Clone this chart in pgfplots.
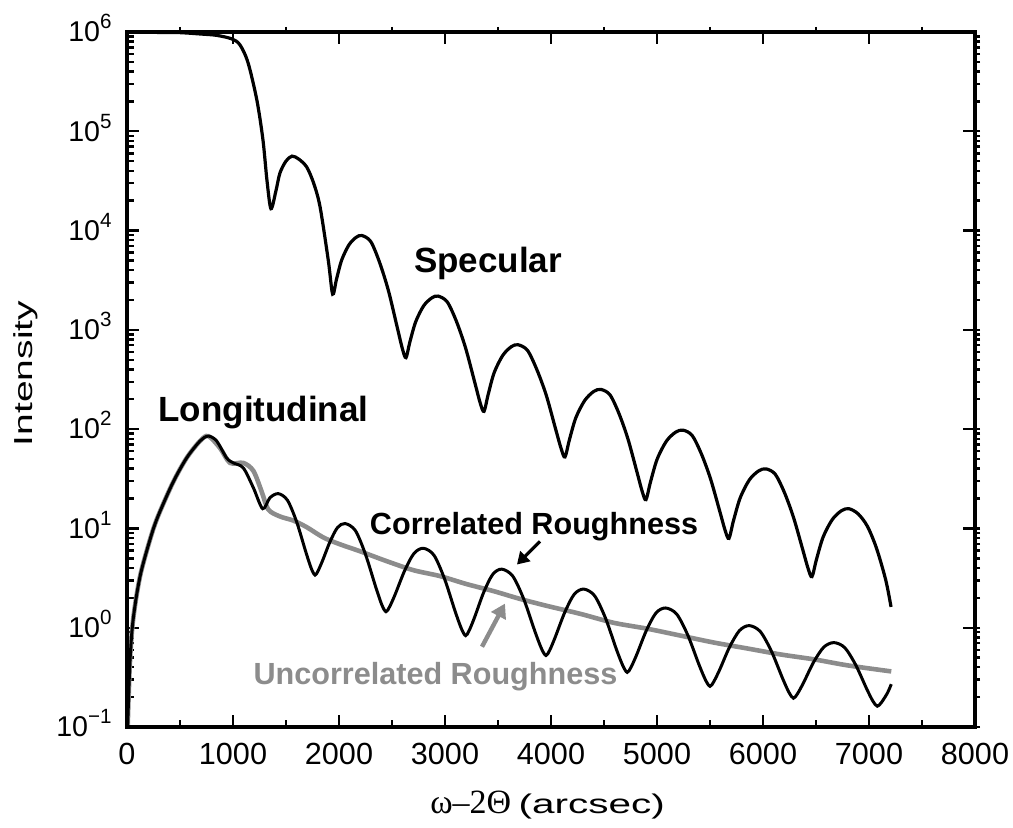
\documentclass[border=0pt]{standalone}
\usepackage{fontspec}
\setmainfont{Liberation Sans}
\newfontfamily\seriffont{Liberation Serif}
\usepackage{pgfplots}
\pgfplotsset{compat=1.18}
\usetikzlibrary{arrows.meta}

\definecolor{roughgray}{gray}{0.55}
\newcommand{\expo}[1]{\smash{\raisebox{6.5pt}{\fontsize{10.3}{11}\selectfont #1}}}

\begin{document}
\begin{tikzpicture}
% main axis: data, labels, ticks on bottom and left
\begin{axis}[
  width=424pt, height=347.5pt, scale only axis,
  xmin=0, xmax=8000, ymin=0.1, ymax=1e6, ymode=log,
  xtick={0,1000,...,8000}, minor x tick num=1,
  ytick={0.1,1,10,100,1000,10000,100000,1000000},
  axis line style={line width=1.6pt},
  every tick/.style={black, line width=1.2pt},
  major tick length=6pt, minor tick length=3.5pt,
  xtick pos=left, ytick pos=left, tick align=inside,
  clip mode=individual,
  scaled x ticks=false,
  /pgf/number format/assume math mode=true,
  /pgf/number format/set thousands separator={},
  xticklabel style={font=\fontsize{15.3}{16}\selectfont, inner sep=0pt, anchor=north, yshift=-8pt},
  yticklabel style={font=\fontsize{14.3}{15}\selectfont, inner sep=0pt, anchor=east, xshift=-7.5pt},
  yticklabels={10\expo{−1},10\expo{0},10\expo{1},10\expo{2},10\expo{3},10\expo{4},10\expo{5},10\expo{6}},
]
% uncorrelated roughness (grey)
\addplot[roughgray, line width=2.3pt, smooth] coordinates {
(6,0.1) (20,0.282) (30,0.501) (44,0.851) (60,1.26) (91,2.14) (130,3.55) (185,5.89)
(250,10.0) (311,14.8) (437,29.5) (563,51.3) (689,75.9) (767,85.1) (877,64.6)
(972,45.7) (1097,45.7) (1192,38.0) (1271,23.4) (1333,15.5) (1443,13.2) (1569,12.0)
(1695,10.3) (1853,8.1) (2009,6.92) (2198,5.89) (2450,4.68) (2701,3.80) (2953,3.31)
(3204,2.75) (3456,2.34) (3708,1.95) (3961,1.66) (4276,1.38) (4592,1.12) (4908,0.977)
(5223,0.832) (5539,0.708) (5855,0.617) (6170,0.537) (6486,0.479) (6801,0.417) (7210,0.363)
};
% correlated roughness (black)
\addplot[black, line width=1.5pt, smooth] coordinates {
(6,0.1) (20,0.282) (30,0.501) (44,0.851) (60,1.26) (91,2.14) (130,3.55) (185,5.89)
(250,10.0) (311,14.8) (437,29.5) (563,51.3) (689,75.9) (767,85.1) (846,75.9)
(940,51.3) (1003,45.7) (1097,40.7) (1192,25.7) (1280,15.8) (1349,20.4) (1428,22.4)
(1514,19.2) (1601,11.6) (1688,5.75) (1739,3.94) (1774,3.39)
(1802,3.73) (1845,4.74) (1916,7.38) (1986,10.2) (2057,11.2)
(2154,9.53) (2250,5.48) (2347,2.56) (2404,1.70) (2443,1.45)
(2478,1.63) (2531,2.18) (2620,3.77) (2708,5.61) (2796,6.31)
(2896,5.37) (2996,3.10) (3095,1.47) (3155,0.977) (3195,0.832)
(3229,0.942) (3280,1.28) (3365,2.27) (3450,3.44) (3535,3.89)
(3639,3.31) (3744,1.93) (3848,0.920) (3910,0.617) (3952,0.525)
(3988,0.594) (4041,0.809) (4130,1.43) (4219,2.17) (4308,2.45)
(4411,2.10) (4514,1.25) (4616,0.610) (4678,0.414) (4719,0.355)
(4755,0.400) (4810,0.540) (4900,0.939) (4991,1.41) (5081,1.58)
(5186,1.37) (5291,0.839) (5395,0.428) (5458,0.297) (5500,0.257)
(5537,0.288) (5593,0.381) (5685,0.640) (5778,0.935) (5870,1.05)
(5974,0.916) (6079,0.581) (6183,0.312) (6245,0.223) (6287,0.195)
(6325,0.216) (6383,0.280) (6478,0.451) (6574,0.638) (6669,0.708)
(6771,0.630) (6874,0.423) (6976,0.245) (7037,0.182) (7078,0.162)
(7116,0.176) (7174,0.220) (7210,0.27)
};
% specular
\addplot[black, line width=1.6pt, smooth] coordinates {
(0,1.0e6) (300,0.99e6) (500,0.985e6) (690,0.955e6) (846,0.925e6) (990,0.851e6)
(1066,741000) (1142,490000) (1226,204000) (1283,81300) (1321,31600) (1358,16600)
(1405,25100) (1443,38000) (1500,50100) (1557,56200) (1620,52500) (1695,43700)
(1760,30200) (1821,17400) (1899,5010) (1940,2290)
(1976,3220) (2025,5035) (2094,7180) (2162,8550) (2217,8910)
(2300,7740) (2383,4775) (2466,2489) (2549,1064) (2599,640) (2632,525)
(2668,750) (2723,1202) (2798,1742) (2874,2094) (2934,2188)
(3021,1914) (3108,1216) (3194,658) (3281,295) (3333,182) (3368,151)
(3407,223) (3464,371) (3545,553) (3625,676) (3689,708)
(3778,622) (3866,399) (3955,220) (4043,100.7) (4097,63.0) (4132,52.5)
(4173,77.6) (4234,130) (4319,195) (4404,240) (4472,251)
(4557,221) (4642,143) (4726,79.6) (4811,37.0) (4862,23.3) (4896,19.5)
(4938,29.2) (5001,49.7) (5088,75.5) (5175,93.1) (5245,97.7)
(5332,86.3) (5419,56.2) (5505,31.6) (5592,14.9) (5644,9.46) (5679,7.94)
(5721,11.9) (5784,20.2) (5871,30.8) (5958,37.9) (6028,39.8)
(6115,35.2) (6202,23.0) (6288,12.9) (6375,6.11) (6427,3.90) (6462,3.27)
(6504,4.85) (6567,8.17) (6654,12.3) (6741,15.1) (6811,15.8)
(6898,14.0) (6985,10.5) (7071,6.31) (7158,3.02) (7208,1.62)
};

% annotations
\node[anchor=base, font=\fontsize{17.5}{20}\selectfont\bfseries] at (axis cs:3406,3767) {Specular};
\node[anchor=base, font=\fontsize{17.5}{20}\selectfont\bfseries] at (axis cs:1288,120.5) {Longitudinal};
\node[anchor=base, font=\fontsize{15.3}{17}\selectfont\bfseries] at (axis cs:3840,8.69) {Correlated Roughness};
\node[anchor=base, text=roughgray, font=\fontsize{15.3}{17}\selectfont\bfseries] at (axis cs:2910,0.265) {Uncorrelated Roughness};
\draw[black, line width=1.6pt, -{Triangle[length=6pt,width=7pt]}] (axis cs:3896,7.4) -- (axis cs:3679,4.33);
\draw[roughgray, line width=2.2pt, -{Triangle[length=7pt,width=8pt]}] (axis cs:3349,0.643) -- (axis cs:3566,1.75);

% axis labels
\node[rotate=90, anchor=base, font=\fontsize{13}{15}\selectfont] at ([xshift=-47pt]rel axis cs:0,0.5087) {\scalebox{1.5}[1]{Intensity}};
\node[anchor=base, font=\fontsize{13.5}{16}\selectfont] at ([yshift=-43.5pt]rel axis cs:0.496,0)
  {{\seriffont\fontsize{17}{18}\selectfont ω–2Θ} \scalebox{1.5}[1]{(arcsec)}};
\end{axis}

% top and right: major ticks inward
\begin{axis}[
  width=424pt, height=347.5pt, scale only axis,
  xmin=0, xmax=8000, ymin=0.1, ymax=1e6, ymode=log,
  xtick={0,1000,...,8000}, minor x tick num=1,
  ytick={0.1,1,10,100,1000,10000,100000,1000000},
  axis line style={line width=1.6pt},
  every tick/.style={black, line width=1.2pt},
  major tick length=6pt, minor tick length=0pt,
  xtick pos=right, ytick pos=right, tick align=inside,
  xticklabels={}, yticklabels={}]
\end{axis}
% top and right: minor ticks outward
\begin{axis}[
  width=424pt, height=347.5pt, scale only axis,
  xmin=0, xmax=8000, ymin=0.1, ymax=1e6, ymode=log,
  xtick={0,1000,...,8000}, minor x tick num=1,
  ytick={0.1,1,10,100,1000,10000,100000,1000000},
  axis line style={line width=1.6pt},
  every tick/.style={black, line width=1.2pt},
  major tick length=0pt, minor tick length=2.5pt,
  xtick pos=right, ytick pos=right, tick align=outside,
  xticklabels={}, yticklabels={}]
\end{axis}

\pgfresetboundingbox
\path[use as bounding box] (-63.5pt,-50.5pt) rectangle (443pt,363.5pt);
\end{tikzpicture}
\end{document}
